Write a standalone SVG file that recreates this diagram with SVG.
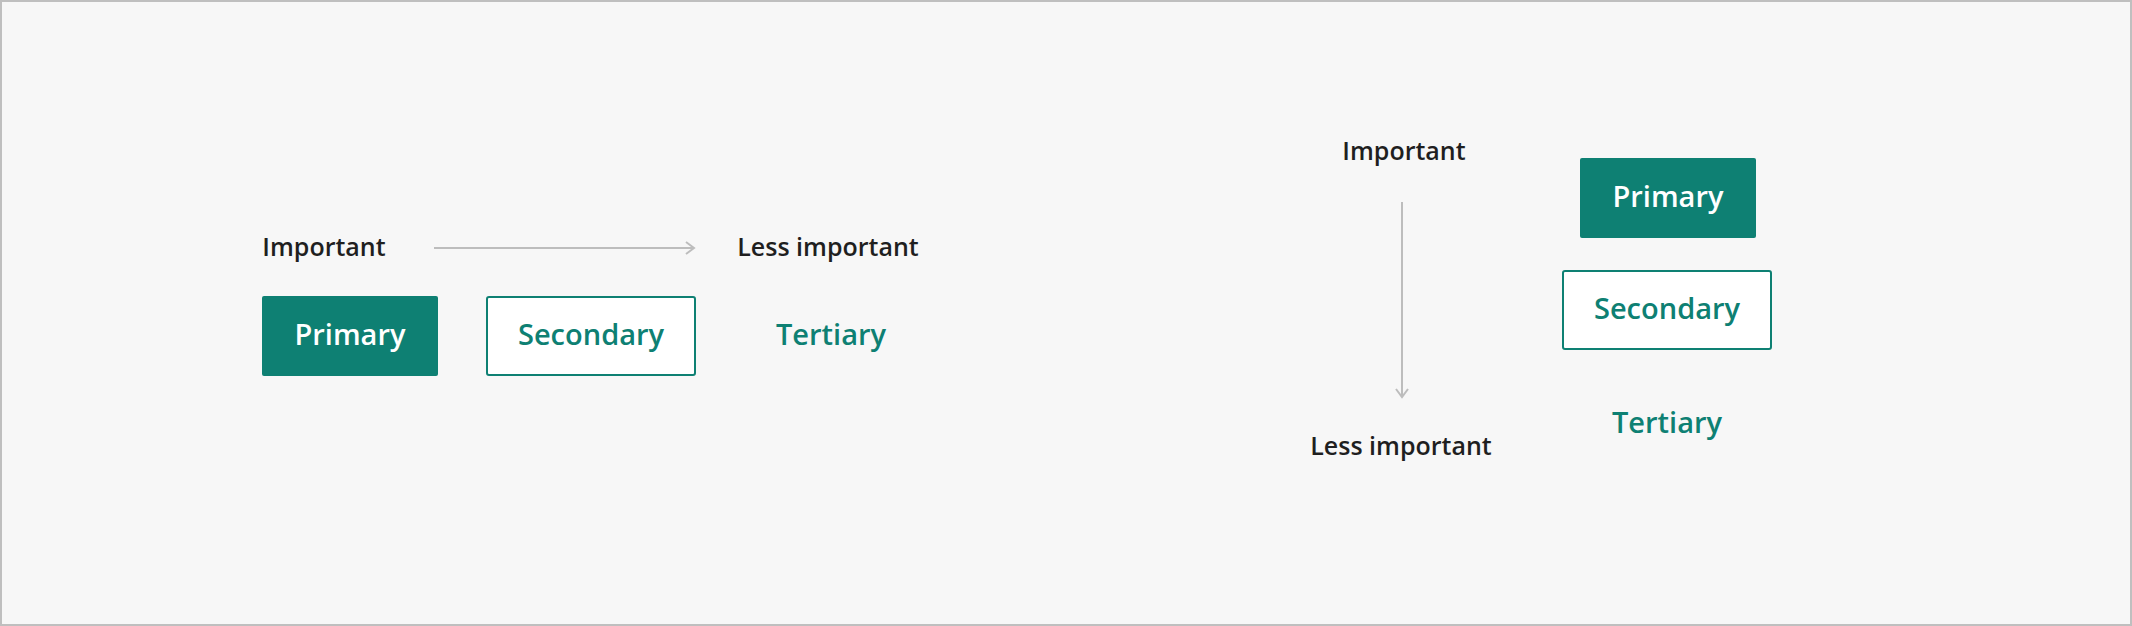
<svg xmlns="http://www.w3.org/2000/svg" width="2132" height="626" viewBox="0 0 2132 626">
<style>
.lbl{font-family:"Open Sans","Liberation Sans",sans-serif;font-weight:600;font-size:25px;fill:#1f1f1f;text-anchor:middle}
.btn{font-family:"Open Sans","Liberation Sans",sans-serif;font-weight:600;font-size:29px;text-anchor:middle}
.pri{fill:#0e8073}
.sec{fill:#ffffff;stroke:#0e8073;stroke-width:2}
.conn{stroke:#bdbdbd;stroke-width:2;fill:none}
</style>
<defs>
<marker id="arr" viewBox="0 0 12 14" refX="10" refY="7" markerWidth="12" markerHeight="14" markerUnits="userSpaceOnUse" orient="auto">
<path d="M2,1 L10,7 L2,13" fill="none" stroke="#bdbdbd" stroke-width="2"/>
</marker>
</defs>
<rect x="1" y="1" width="2130" height="624" fill="#f7f7f7" stroke="#bfbfbf" stroke-width="2"/>
<g id="connectors">
<line class="conn" x1="434" y1="248" x2="694" y2="248" marker-end="url(#arr)"/>
<line class="conn" x1="1402" y1="202" x2="1402" y2="397" marker-end="url(#arr)"/>
</g>
<g id="h-important"><text class="lbl" x="324" y="256">Important</text></g>
<g id="h-less"><text class="lbl" x="828" y="256">Less important</text></g>
<g id="h-primary"><rect class="pri" x="262" y="296" width="176" height="80" rx="2"/><text class="btn" x="350" y="345" fill="#ffffff">Primary</text></g>
<g id="h-secondary"><rect class="sec" x="487" y="297" width="208" height="78" rx="2"/><text class="btn" x="591" y="345" fill="#0e8073">Secondary</text></g>
<g id="h-tertiary"><text class="btn" x="831" y="345" fill="#0e8073">Tertiary</text></g>
<g id="v-important"><text class="lbl" x="1404" y="160">Important</text></g>
<g id="v-less"><text class="lbl" x="1401" y="455">Less important</text></g>
<g id="v-primary"><rect class="pri" x="1580" y="158" width="176" height="80" rx="2"/><text class="btn" x="1668" y="207" fill="#ffffff">Primary</text></g>
<g id="v-secondary"><rect class="sec" x="1563" y="271" width="208" height="78" rx="2"/><text class="btn" x="1667" y="319" fill="#0e8073">Secondary</text></g>
<g id="v-tertiary"><text class="btn" x="1667" y="433" fill="#0e8073">Tertiary</text></g>
</svg>
